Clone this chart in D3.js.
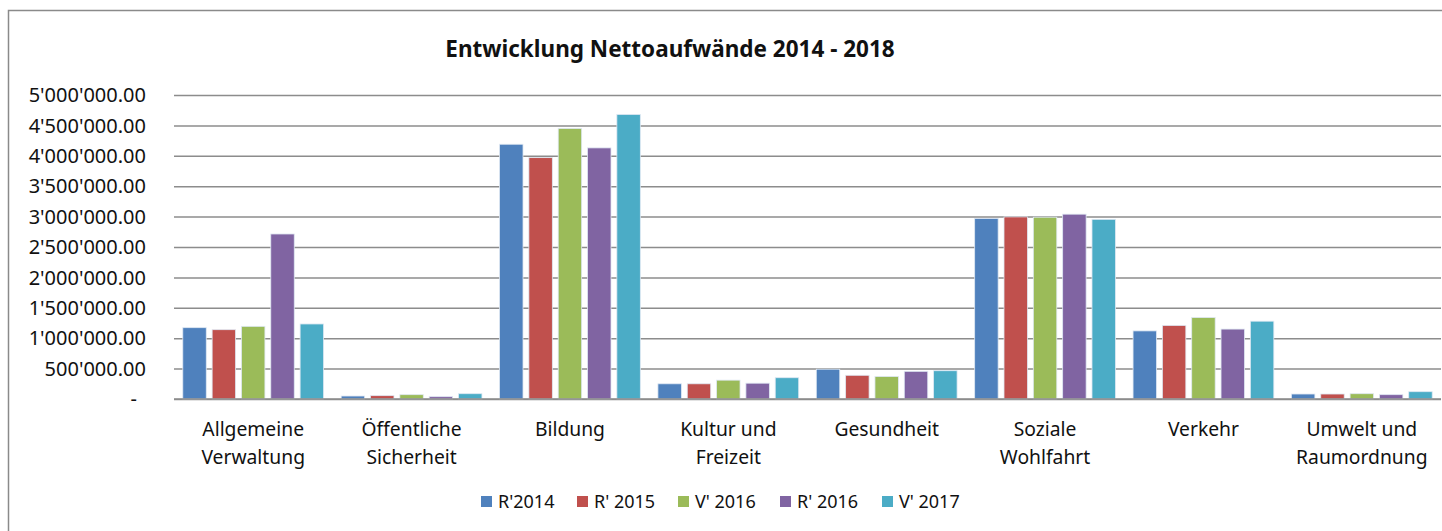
<!DOCTYPE html>
<html lang="de">
  <head>
    <meta charset="UTF-8" />
    <title>Entwicklung Nettoaufwände 2014 - 2018</title>
    <script src="https://d3js.org/d3.v7.min.js"></script>
    <style>
      body {
        margin: 0;
        background: #fff;
      }
      text {
        font-family: "Noto Sans", sans-serif;
        fill: #111;
      }
      .gridlines line {
        stroke: #8c8c8c;
        stroke-width: 1.5;
      }
      .gridlines .domain {
        stroke: none;
      }
    </style>
  </head>
  <body>
    <svg width="1442" height="531" id="chart"></svg>

    <script>
      // categories (two-line labels)
      const categories = [
        "Allgemeine Verwaltung",
        "Öffentliche Sicherheit",
        "Bildung",
        "Kultur und Freizeit",
        "Gesundheit",
        "Soziale Wohlfahrt",
        "Verkehr",
        "Umwelt und Raumordnung",
      ];
      const categoryLines = [
        ["Allgemeine", "Verwaltung"],
        ["Öffentliche", "Sicherheit"],
        ["Bildung"],
        ["Kultur und", "Freizeit"],
        ["Gesundheit"],
        ["Soziale", "Wohlfahrt"],
        ["Verkehr"],
        ["Umwelt und", "Raumordnung"],
      ];

      const seriesNames = ["R'2014", "R' 2015", "V' 2016", "R' 2016", "V' 2017"];
      const seriesColors = ["#4f81bd", "#c0504d", "#9bbb59", "#8064a2", "#4bacc6"];

      // values per series, in category order
      const r2014 = [1173000, 49000, 4190000, 250000, 490000, 2970000, 1120000, 82000];
      const r2015 = [1140000, 55000, 3970000, 250000, 390000, 2995000, 1210000, 82000];
      const v2016 = [1195000, 71000, 4450000, 310000, 370000, 2990000, 1340000, 87000];
      const r2016 = [2714000, 38000, 4130000, 260000, 455000, 3040000, 1150000, 71000];
      const v2017 = [1234000, 87000, 4680000, 350000, 465000, 2955000, 1280000, 120000];
      const seriesValues = [r2014, r2015, v2016, r2016, v2017];

      const yTicks = [0, 500000, 1000000, 1500000, 2000000, 2500000, 3000000, 3500000, 4000000, 4500000, 5000000];

      const svg = d3.select("#chart");
      const margins = { top: 95, left: 174, right: 1441, bottom: 399 };

      // chart border (right/bottom edges fall outside the picture)
      svg
        .append("rect")
        .attr("x", 8.5)
        .attr("y", 10.5)
        .attr("width", 1600)
        .attr("height", 700)
        .attr("fill", "none")
        .attr("stroke", "#8a8a8a")
        .attr("stroke-width", 1.5);

      const x0 = d3
        .scaleBand()
        .domain(categories)
        .range([margins.left, margins.right]);

      const x1 = d3
        .scaleBand()
        .domain(seriesNames)
        .range([0, x0.bandwidth()])
        .paddingInner(0.2)
        .paddingOuter(0.3);

      const yScale = d3
        .scaleLinear()
        .domain([0, 5000000])
        .range([margins.bottom, margins.top]);

      // gridlines
      const yGrid = d3
        .axisLeft(yScale)
        .tickValues(yTicks)
        .tickSize(-(margins.right - margins.left))
        .tickFormat("");
      svg
        .append("g")
        .attr("class", "gridlines")
        .attr("transform", `translate(${margins.left},0)`)
        .call(yGrid);

      // y tick labels, swiss style 5'000'000.00
      const fmt = (v) => {
        if (v === 0) return "-";
        return d3.format(",.2f")(v).replace(/,/g, "'");
      };
      svg
        .append("g")
        .selectAll("text")
        .data(yTicks)
        .join("text")
        .attr("x", (d) => (d === 0 ? 137 : 146))
        .attr("y", (d) => yScale(d))
        .attr("dy", "0.36em")
        .attr("text-anchor", "end")
        .attr("font-size", 20)
        .text(fmt);

      // bars
      const bars = [];
      categories.forEach((c, ci) => {
        seriesNames.forEach((s, si) => {
          bars.push({ cat: c, series: s, color: seriesColors[si], value: seriesValues[si][ci] });
        });
      });

      svg
        .append("g")
        .selectAll("rect")
        .data(bars)
        .join("rect")
        .attr("x", (d) => x0(d.cat) + x1(d.series))
        .attr("y", (d) => yScale(d.value))
        .attr("width", x1.bandwidth())
        .attr("height", (d) => yScale(0) - yScale(d.value))
        .attr("fill", (d) => d.color)
        .attr("stroke", "#dfe8f3")
        .attr("stroke-width", 0.8);

      // x axis line
      svg
        .append("line")
        .attr("x1", margins.left)
        .attr("x2", margins.right)
        .attr("y1", yScale(0))
        .attr("y2", yScale(0))
        .attr("stroke", "#8c8c8c")
        .attr("stroke-width", 1.5);

      // category labels
      const catLabels = svg
        .append("g")
        .selectAll("text")
        .data(categories)
        .join("text")
        .attr("x", (d) => x0(d) + x0.bandwidth() / 2)
        .attr("y", 436)
        .attr("text-anchor", "middle")
        .attr("font-size", 19.3);
      catLabels
        .selectAll("tspan")
        .data((d, i) => categoryLines[i])
        .join("tspan")
        .attr("x", function () {
          return d3.select(this.parentNode).attr("x");
        })
        .attr("dy", (d, i) => (i === 0 ? 0 : 28))
        .text((d) => d);

      // legend
      const legendX = [481, 577, 678, 780, 882];
      const legend = svg
        .append("g")
        .selectAll("g")
        .data(seriesNames)
        .join("g")
        .attr("transform", (d, i) => `translate(${legendX[i]},502)`);
      legend
        .append("rect")
        .attr("x", 0)
        .attr("y", -6)
        .attr("width", 11)
        .attr("height", 11)
        .attr("fill", (d, i) => seriesColors[i]);
      legend
        .append("text")
        .attr("x", 17)
        .attr("y", 0)
        .attr("dy", "0.36em")
        .attr("font-size", 18)
        .text((d) => d);

      // title
      svg
        .append("text")
        .attr("x", 670)
        .attr("y", 57)
        .attr("text-anchor", "middle")
        .attr("font-family", "Lato, sans-serif")
        .attr("font-weight", "bold")
        .attr("font-size", 22.5)
        .text("Entwicklung Nettoaufwände 2014 - 2018");
    </script>
  </body>
</html>
